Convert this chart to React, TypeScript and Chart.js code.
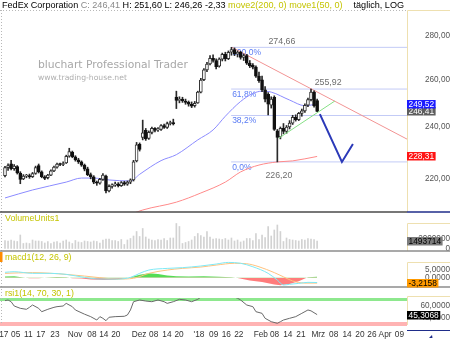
import React, { useEffect, useRef } from "react";
import { Chart, registerables } from "chart.js";

Chart.register(...registerables);

// ---------------- DATA ----------------
// daily candles, Oct 2 2017 .. Feb 28 2018 (index = trading day)
const candleOpen = [
  221.0, 224.0, 225.5, 223.6, 224.4, 222.0, 219.8, 220.8, 221.0, 220.6,
  221.8, 224.8, 222.4, 220.6, 220.2, 221.2, 222.8, 224.2, 225.4, 225.2,
  225.8, 228.4, 230.0, 228.2, 227.0, 226.2, 225.0, 223.6, 221.4, 220.6,
  218.4, 218.2, 219.6, 220.8, 215.4, 217.0, 217.6, 217.9, 217.3, 218.4,
  217.8, 218.6, 219.4, 226.6, 233.0, 235.8, 238.6, 235.4, 237.8, 239.4,
  238.8, 239.0, 240.6, 239.8, 241.4, 241.8, 252.5, 251.0, 251.6, 250.8,
  250.2, 249.4, 248.8, 250.0, 254.6, 260.0, 264.4, 267.0, 269.6, 268.6,
  266.0, 269.2, 271.4, 269.4, 272.4, 273.6, 271.6, 272.4, 270.0, 270.8,
  267.4, 266.4, 265.6, 261.6, 260.0, 255.6, 253.6, 249.0, 252.4, 238.4,
  236.0, 239.4, 238.2, 240.0, 241.6, 244.0, 243.0, 245.6, 246.6, 249.0,
  251.4, 254.6, 251.0,
];
const candleHigh = [
  224.5, 225.5, 226.8, 225.2, 224.8, 222.5, 221.4, 221.5, 221.6, 222.2,
  224.6, 225.4, 222.8, 221.0, 221.5, 223.2, 224.6, 225.8, 225.8, 226.2,
  228.8, 231.5, 230.4, 228.6, 227.6, 226.6, 225.4, 224.2, 222.0, 221.0,
  219.0, 220.0, 221.8, 221.2, 217.6, 218.0, 218.6, 218.4, 218.8, 218.9,
  219.0, 219.8, 226.8, 233.8, 233.6, 242.8, 239.4, 238.4, 240.0, 239.8,
  239.8, 241.0, 241.2, 242.0, 242.4, 243.2, 255.0, 252.6, 252.4, 251.6,
  250.8, 250.4, 250.6, 255.0, 260.6, 265.0, 267.8, 270.8, 271.2, 269.4,
  269.8, 272.0, 272.4, 273.0, 274.66, 274.4, 273.0, 272.8, 271.6, 271.4,
  268.6, 267.2, 266.2, 263.4, 261.6, 257.0, 254.4, 252.6, 253.0, 239.0,
  240.0, 241.4, 240.6, 242.6, 244.8, 245.0, 246.0, 247.4, 249.6, 252.0,
  255.92, 255.2, 251.6,
];
const candleLow = [
  220.5, 223.0, 223.2, 223.0, 221.6, 218.0, 219.5, 220.2, 220.0, 220.3,
  221.5, 222.0, 220.2, 219.5, 219.8, 221.0, 222.5, 223.8, 224.8, 224.8,
  225.6, 228.0, 227.8, 226.5, 225.6, 224.5, 222.8, 221.0, 219.8, 218.0,
  217.4, 217.8, 219.2, 214.6, 215.0, 216.4, 217.0, 216.8, 217.0, 217.4,
  217.4, 218.0, 219.0, 226.2, 230.4, 234.8, 234.6, 235.0, 237.2, 238.0,
  238.2, 238.6, 239.4, 239.4, 240.8, 240.8, 247.6, 250.0, 250.2, 249.4,
  248.6, 248.0, 248.2, 249.8, 254.2, 259.6, 263.6, 266.6, 267.8, 264.8,
  265.6, 268.4, 268.4, 269.0, 271.0, 270.8, 270.2, 269.2, 268.6, 266.8,
  265.4, 264.8, 261.0, 258.8, 254.8, 250.4, 245.0, 247.8, 238.6, 226.2,
  235.2, 237.2, 237.4, 239.2, 241.0, 242.4, 242.6, 244.4, 246.0, 248.4,
  250.8, 248.2, 246.26,
];
const candleClose = [
  224.0, 224.8, 223.6, 224.6, 222.0, 219.6, 220.8, 220.9, 220.6, 221.8,
  224.0, 222.4, 220.6, 220.0, 221.2, 222.8, 224.2, 225.4, 225.2, 225.6,
  228.4, 230.2, 228.2, 227.0, 226.2, 225.0, 223.4, 221.4, 220.6, 218.6,
  218.2, 219.6, 221.2, 215.4, 217.0, 217.6, 217.9, 217.3, 218.4, 217.8,
  218.6, 219.4, 226.2, 232.8, 231.0, 237.6, 235.2, 237.8, 239.4, 238.6,
  239.2, 240.6, 239.8, 241.4, 241.6, 241.2, 251.0, 251.6, 250.8, 250.2,
  249.4, 248.6, 249.8, 254.6, 259.8, 264.4, 267.0, 269.6, 268.6, 265.8,
  269.2, 271.4, 269.4, 272.4, 273.6, 271.6, 272.4, 270.0, 270.8, 267.4,
  266.2, 265.6, 261.6, 259.6, 255.6, 251.6, 249.4, 251.6, 239.0, 235.8,
  239.4, 238.2, 240.0, 241.6, 244.0, 243.0, 245.6, 246.6, 249.0, 251.4,
  254.6, 248.74, 246.41,
];
// volume in millions of shares
const volumeMillions = [
  1.6, 1.5, 1.7, 1.5, 1.4, 2.7, 1.0, 1.1, 1.0, 1.7,
  1.5, 1.5, 1.4, 1.1, 1.4, 1.0, 1.3, 1.4, 1.1, 1.5,
  1.7, 1.3, 1.0, 1.6, 1.3, 1.2, 1.5, 1.4, 1.3, 1.5,
  1.4, 1.1, 1.7, 1.9, 1.9, 1.6, 1.6, 1.4, 1.8, 0.8,
  1.7, 2.0, 2.5, 3.4, 2.4, 4.0, 2.3, 1.9, 1.7, 1.6,
  1.8, 1.7, 2.0, 1.6, 2.1, 2.1, 5.0, 4.4, 1.0, 1.2,
  1.4, 1.7, 2.4, 3.0, 2.6, 2.3, 3.4, 2.3, 1.9, 2.0,
  1.9, 1.8, 2.0, 1.7, 2.1, 1.5, 1.7, 1.3, 1.5, 2.0,
  2.0, 1.6, 3.0, 1.8, 2.7, 2.2, 4.4, 2.5, 3.7, 4.7,
  3.4, 1.4, 2.1, 1.8, 1.7, 1.6, 1.5, 1.8, 1.7, 2.0,
  1.9, 1.8, 1.493714,
];

// moving averages (read at sample days)
const ma50Idx = [0, 9, 20, 25, 29, 34, 41, 44, 51, 56, 63, 68, 72, 77, 81, 84, 87, 93, 98, 102];
const ma50Val = [212.8, 215.7, 218.6, 220.1, 220.1, 219.4, 219.0, 221.5, 226.7, 229.0, 234.8, 238.8, 244.4, 250.6, 254.0, 255.0, 254.6, 251.2, 248.8, 249.52];
const ma200Idx = [0, 20, 35, 45, 56, 64, 72, 77, 83, 89, 94, 102];
const ma200Val = [196.0, 200.0, 204.5, 208.5, 211.3, 214.6, 218.6, 222.4, 225.0, 226.2, 226.6, 228.31];

// MACD
const macdIdx = [0, 3, 9, 15, 20, 26, 31, 37, 41, 44, 47, 53, 58, 64, 69, 73, 77, 81, 86, 89, 91, 93, 96, 99, 102];
const macdVal = [3.6, 4.0, 2.9, 2.9, 2.2, 0.2, -0.9, -0.9, 0.2, 2.9, 5.1, 6.2, 6.7, 7.8, 9.1, 10.2, 9.6, 7.3, 2.9, -1.6, -4.9, -4.4, -3.8, -3.1, -3.2158];
const signalIdx = [0, 9, 20, 26, 31, 37, 42, 47, 53, 58, 64, 69, 75, 79, 83, 88, 91, 94, 98, 102];
const signalVal = [2.9, 3.4, 2.2, 1.1, 0, -0.9, -0.4, 2.9, 5.1, 6.2, 7.1, 8.4, 9.6, 9.3, 7.3, 3.4, 0.6, -2.2, -3.6, -3.6];
const histIdx = [0, 3, 6, 8, 11, 14, 17, 20, 22, 25, 28, 32, 36, 39, 41, 44, 47, 50, 53, 56, 60, 65, 70, 74, 76, 80, 84, 88, 90, 93, 96, 98, 99, 102];
const histVal = [0.8, 0.9, 0.2, -0.4, -0.3, 0.1, 0.4, 0.3, -0.3, -0.6, -1.2, -1.5, -1.3, -0.6, 0.3, 2.0, 2.9, 2.4, 1.5, 1.0, 0.8, 0.9, 0.7, 0.3, -0.2, -1.8, -2.8, -4.5, -5.0, -4.2, -2.4, -0.6, 0.3, 0.7];

// RSI
const rsiIdx = [0, 1, 2, 3, 5, 7, 8, 9, 11, 12, 14, 16, 17, 19, 20, 22, 23, 26, 28, 30, 31, 32, 33, 34, 36, 39, 40, 41, 42, 44, 46, 48, 50, 52, 53, 55, 57, 59, 61, 63, 64, 66, 70, 74, 76, 77, 79, 81, 82, 84, 85, 87, 89, 90, 91, 93, 95, 97, 99, 100, 102];
const rsiVal = [68.1, 69.2, 66.4, 59.4, 55.6, 54.0, 57.2, 61.0, 55.6, 50.1, 54.0, 57.2, 58.3, 59.4, 63.7, 58.3, 52.9, 46.0, 42.0, 36.5, 42.0, 39.3, 35.4, 41.0, 42.0, 42.6, 44.7, 52.9, 66.4, 69.2, 67.5, 66.4, 69.2, 66.4, 63.7, 66.4, 70.3, 69.2, 66.4, 70.3, 74, 78, 80, 76, 72, 69.2, 61.0, 58.3, 50.1, 47.4, 39.3, 33.8, 31.1, 33.8, 36.5, 39.3, 42.0, 47.4, 52.9, 51.5, 45.31];

// drawings: fibonacci retracement, trend lines, projection
const fibLevels = [274.66, 255.92, 244.71, 226.2];
const fibLabels = ["100,0%", "61,8%", "38,2%", "0,0%"];
const fibSpanIdx = [73.9, 131.4];
const priceNoteText = ["274,66", "255,92", "226,20"];
const priceNoteValue = [274.66, 255.92, 226.2];
const trendRedIdx = [74.2, 131.4];
const trendRedVal = [274.66, 235.1];
const trendGreenIdx = [89.5, 107.8];
const trendGreenVal = [235.5, 250.8];
const projectionIdx = [102.9, 110.1, 113.7];
const projectionVal = [245.3, 226.2, 233.2];

// axis ticks
const xTickPos = [-0.65, 3.5, 7.6, 11.7, 16.3, 22.9, 28.4, 32.3, 36.2, 43.8, 48.6, 52.9, 56.9, 63.4, 68.2, 72.3, 76.4, 83.6, 88.1, 92.4, 96.7, 102.4, 107.4, 111.8, 116, 119.9, 124.2, 128.9];
const xTickLabels = ["'17", "05", "11", "17", "23", "Nov", "08", "14", "20", "Dez", "08", "14", "20", "'18", "09", "16", "22", "Feb", "08", "14", "21", "Mrz", "08", "14", "20", "26", "Apr", "09"];
const mainTicks = [220, 240, 260, 280];
const mainTickLabels = ["220,00", "240,00", "260,00", "280,00"];
const volTicks = [0, 2];
const volTickLabels = ["0", "2000000"];
const macdTicks = [0, 5];
const macdTickLabels = ["0,0000", "5,0000"];
const rsiTicks = [40, 60];
const rsiTickLabels = ["40,0000", "60,0000"];

// texts
const titleParts = ["FedEx Corporation ", "C: 246,41 ", "H: 251,60 L: 246,26 -2,33 ", "move2(200, 0) move1(50, 0)"];
const titleRight = "täglich, LOG";
const watermarkTitle = "bluchart Professional Trader";
const watermarkUrl = "www.trading-house.net";
const panelTitles = ["VolumeUnits1", "macd1(12, 26, 9)", "rsi1(14, 70, 30, 1)"];
const lastValues = { ma50: 249.52, close: 246.41, ma200: 228.31, volume: 1.493714, macd: -3.2158, rsi: 45.3068 };
const lastValueText = { ma50: "249,52", close: "246,41", ma200: "228,31", volume: "1493714", macd: "-3,2158", rsi: "45,3068" };

// ---------------- LAYOUT / STYLE ----------------
const SANS = "'Liberation Sans', Arial, sans-serif";
const DEJAVU = "'DejaVu Sans', sans-serif";
const PLOT_RIGHT = 407;
const AXIS_W = 43;
const AXIS_FONT = 8.2;
const YELLOW = "#c4c400";

function fitFont(ctx: CanvasRenderingContext2D, text: string, width: number, family: string) {
  ctx.font = `20px ${family}`;
  const w = ctx.measureText(text).width;
  return `${((20 * width) / w).toFixed(2)}px ${family}`;
}

function hline(ctx: CanvasRenderingContext2D, x1: number, y1: number, x2: number, y2: number) {
  ctx.beginPath();
  ctx.moveTo(x1, y1);
  ctx.lineTo(x2, y2);
  ctx.stroke();
}

const overlayPlugin = {
  id: "overlay",
  beforeDatasetsDraw(chart: any) {
    const { ctx, scales } = chart;
    const xs = scales.x, ym = scales.yMain, yr = scales.yRsi;
    ctx.save();
    ctx.textBaseline = "middle";
    ctx.textAlign = "left";
    // watermark
    ctx.fillStyle = "#a8a8a8";
    ctx.font = fitFont(ctx, watermarkTitle, 150, DEJAVU);
    ctx.fillText(watermarkTitle, 38, 65);
    ctx.fillStyle = "#afafaf";
    ctx.font = fitFont(ctx, watermarkUrl, 89, DEJAVU);
    ctx.fillText(watermarkUrl, 38, 78);
    // fib labels
    ctx.font = `8.5px ${SANS}`;
    ctx.fillStyle = "#5a7cf4";
    const fx = xs.getPixelForValue(fibSpanIdx[0]) + 1;
    fibLevels.forEach((v, k) => ctx.fillText(fibLabels[k], fx, ym.getPixelForValue(v) + 5.5));
    // price notes
    const noteIdx = [90.5, 105.6, 89.5];
    const noteDy = [-6, -6, 14];
    ctx.font = `8.8px ${SANS}`;
    ctx.fillStyle = "#6e6e6e";
    ctx.textAlign = "center";
    priceNoteText.forEach((t, k) =>
      ctx.fillText(t, xs.getPixelForValue(noteIdx[k]), ym.getPixelForValue(priceNoteValue[k]) + noteDy[k])
    );
    // RSI bands
    ctx.lineWidth = 3;
    ctx.strokeStyle = "#8ee88e";
    const y70 = yr.getPixelForValue(70);
    hline(ctx, 0, y70, PLOT_RIGHT, y70);
    ctx.lineWidth = 4;
    ctx.strokeStyle = "#ffb3b3";
    const y30 = yr.getPixelForValue(30);
    hline(ctx, 0, y30, PLOT_RIGHT, y30);
    ctx.restore();
  },
  afterDraw(chart: any) {
    const { ctx, scales } = chart;
    ctx.save();
    // left dotted axis & top dotted border
    ctx.strokeStyle = "#b8b8b8";
    ctx.lineWidth = 1;
    ctx.setLineDash([1, 2]);
    hline(ctx, 1.5, 10, 1.5, 325);
    hline(ctx, 0, 10.5, PLOT_RIGHT, 10.5);
    ctx.setLineDash([]);
    // right column boxes
    ctx.strokeStyle = "#eee0b0";
    const tops = [10.5, 223.5, 262.5, 296.5];
    const bottoms = [212, 251, 287, 325];
    tops.forEach((t, k) => {
      hline(ctx, PLOT_RIGHT + 0.5, t, PLOT_RIGHT + 0.5, bottoms[k]);
      hline(ctx, PLOT_RIGHT + 0.5, t, 450, t);
    });
    // separators
    ctx.lineWidth = 1.5;
    ctx.strokeStyle = "#4a4a4a";
    hline(ctx, 0, 212, PLOT_RIGHT, 212);
    ctx.strokeStyle = "#1f2d8a";
    hline(ctx, PLOT_RIGHT, 212, 450, 212);
    ctx.strokeStyle = "#8c8c8c";
    hline(ctx, 0, 251, 450, 251);
    hline(ctx, 0, 287, 450, 287);
    ctx.lineWidth = 1;
    ctx.strokeStyle = "#1f2d8a";
    hline(ctx, PLOT_RIGHT, 330.5, 450, 330.5);
    // small arrow in the corner cell
    ctx.fillStyle = "#1f2d8a";
    ctx.beginPath();
    ctx.moveTo(429, 338);
    ctx.lineTo(432, 335);
    ctx.lineTo(432.5, 338);
    ctx.closePath();
    ctx.fill();

    // title
    ctx.textBaseline = "middle";
    ctx.textAlign = "left";
    const titleFont = fitFont(ctx, titleParts.join(""), 341, SANS);
    ctx.font = titleFont;
    const titleColors = ["#000000", "#8a8a8a", "#000000", YELLOW];
    let tx = 2;
    titleParts.forEach((p, k) => {
      ctx.fillStyle = titleColors[k];
      ctx.fillText(p, tx, 5.5);
      tx += ctx.measureText(p).width;
    });
    ctx.fillStyle = "#000";
    ctx.textAlign = "right";
    ctx.fillText(titleRight, 404, 5.5);

    // panel titles
    ctx.textAlign = "left";
    ctx.font = `8.8px ${SANS}`;
    ctx.fillStyle = YELLOW;
    ctx.fillText(panelTitles[0], 5, scales.yVol.top + 6.5);
    ctx.fillText(panelTitles[1], 5, scales.yMacd.top + 7);
    ctx.fillText(panelTitles[2], 5, scales.yRsiHead.top + 7);
    ctx.fillStyle = "#ff8c00";
    ctx.fillRect(0, scales.yMacd.top + 1, 2.5, 10);

    // last value boxes
    const box = (text: string, y: number, bg: string, fg: string) => {
      ctx.font = `8.4px ${SANS}`;
      const w = ctx.measureText(text).width + 3;
      const yc = Math.round(y);
      ctx.fillStyle = bg;
      ctx.fillRect(PLOT_RIGHT, yc - 4, w, 8.5);
      ctx.fillStyle = fg;
      ctx.textAlign = "left";
      ctx.fillText(text, PLOT_RIGHT + 1.5, yc + 0.5);
    };
    const ym = scales.yMain;
    box(lastValueText.close, ym.getPixelForValue(lastValues.close), "#5e5e5e", "#ffffff");
    box(lastValueText.ma50, ym.getPixelForValue(lastValues.ma50), "#1c1cff", "#ffffff");
    box(lastValueText.ma200, ym.getPixelForValue(lastValues.ma200), "#ff1414", "#ffffff");
    box(lastValueText.volume, scales.yVol.getPixelForValue(lastValues.volume), "#7c7c7c", "#000000");
    box(lastValueText.macd, scales.yMacd.getPixelForValue(lastValues.macd), "#ff9a00", "#000000");
    box(lastValueText.rsi, scales.yRsi.getPixelForValue(lastValues.rsi), "#000000", "#ffffff");
    ctx.restore();
  },
};

export default function App() {
  const canvasRef = useRef<HTMLCanvasElement | null>(null);

  useEffect(() => {
    document.body.style.margin = "0";
    const canvas = canvasRef.current;
    if (!canvas) return;

    const n = candleClose.length;
    const days = Array.from({ length: n }, (_, i) => i);
    const up = days.map((i) => candleClose[i] >= candleOpen[i]);
    const pts = (xs: number[], ys: number[]) => xs.map((x, k) => ({ x, y: ys[k] }));

    const mctx = document.createElement("canvas").getContext("2d")!;
    const textW = (s: string) => {
      mctx.font = `${AXIS_FONT}px ${SANS}`;
      return mctx.measureText(s).width;
    };

    const yAxis = (weight: number, ticks: number[], labels: string[], rightEdge: number, extra: any) => {
      const widest = labels.length ? Math.max(...labels.map(textW)) : 0;
      return {
        position: "right",
        stack: "panels",
        stackWeight: weight,
        bounds: "data",
        offset: false,
        grid: { display: false, drawTicks: false },
        border: { display: false },
        ticks: {
          font: { family: SANS, size: AXIS_FONT },
          color: "#555555",
          padding: Math.max(0, rightEdge - PLOT_RIGHT - widest),
          crossAlign: "far",
          autoSkip: false,
          callback: (_v: any, i: number) => labels[i] ?? "",
        },
        afterBuildTicks: (s: any) => {
          s.ticks = ticks.map((v) => ({ value: v }));
        },
        afterFit: (s: any) => {
          s.width = AXIS_W;
          s.paddingTop = 0;
          s.paddingBottom = 0;
        },
        ...extra,
      };
    };

    const lineDs = (data: any[], yAxisID: string, color: string, width: number, order: number, extra: any = {}) => ({
      type: "line",
      data,
      yAxisID,
      borderColor: color,
      borderWidth: width,
      pointRadius: 0,
      fill: false,
      order,
      ...extra,
    });

    const chart = new Chart(canvas, {
      type: "bar",
      data: {
        datasets: [
          ...fibLevels.map((v) =>
            lineDs(pts(fibSpanIdx, [v, v]), "yMain", "#c3cbf6", 1, 20)
          ),
          lineDs(pts(ma200Idx, ma200Val), "yMain", "#ff8a8a", 1, 15, { cubicInterpolationMode: "monotone" }),
          lineDs(pts(ma50Idx, ma50Val), "yMain", "#8b8bff", 1, 14, { cubicInterpolationMode: "monotone" }),
          lineDs(pts(trendRedIdx, trendRedVal), "yMain", "#f29494", 1, 13),
          {
            type: "bar",
            yAxisID: "yMain",
            data: days.map((i) => ({ x: i, y: [candleLow[i], candleHigh[i]] })),
            backgroundColor: "#2a2a2a",
            borderWidth: 0,
            barThickness: 1,
            maxBarThickness: 1,
            grouped: false,
            order: 6,
          },
          {
            type: "bar",
            yAxisID: "yMain",
            data: days.map((i) => ({ x: i, y: [candleOpen[i], candleClose[i]] })),
            backgroundColor: up.map((u) => (u ? "#ffffff" : "#111111")),
            borderColor: up.map((u) => (u ? "#333333" : "#111111")),
            borderWidth: 1,
            borderSkipped: false,
            barThickness: 3,
            maxBarThickness: 3,
            minBarLength: 1,
            grouped: false,
            order: 5,
          },
          lineDs(pts(trendGreenIdx, trendGreenVal), "yMain", "#86e086", 1, 4),
          lineDs(pts(projectionIdx, projectionVal), "yMain", "#2b39b8", 2, 3),
          {
            type: "bar",
            yAxisID: "yVol",
            data: days.map((i) => ({ x: i, y: volumeMillions[i] })),
            backgroundColor: "#d2d2d2",
            borderWidth: 0,
            barThickness: 1,
            maxBarThickness: 1,
            grouped: false,
            order: 10,
          },
          lineDs(pts(histIdx, histVal), "yMacd", "rgba(0,0,0,0)", 0, 12, {
            fill: { target: "origin", above: "#55dd55", below: "#ff7c7c" },
          }),
          lineDs(pts(signalIdx, signalVal), "yMacd", "#ffc27e", 1, 9, { cubicInterpolationMode: "monotone" }),
          lineDs(pts(macdIdx, macdVal), "yMacd", "#7fe9f5", 1, 8, { cubicInterpolationMode: "monotone" }),
          lineDs(pts(rsiIdx, rsiVal), "yRsi", "#6a6a6a", 1, 7),
        ],
      },
      options: {
        responsive: false,
        animation: false,
        devicePixelRatio: 1,
        events: [],
        layout: { padding: { top: 10, left: 2, right: 0, bottom: 0 } },
        plugins: { legend: { display: false }, tooltip: { enabled: false }, title: { display: false } },
        scales: {
          x: {
            type: "linear",
            position: "bottom",
            min: -0.98,
            max: 131.37,
            bounds: "data",
            offset: false,
            grid: { display: false, drawTicks: false, offset: false },
            border: { display: false },
            ticks: {
              font: { family: SANS, size: 8.3 },
              color: "#333333",
              padding: 5,
              autoSkip: false,
              maxRotation: 0,
              minRotation: 0,
              callback: (_v: any, i: number) => xTickLabels[i] ?? "",
            },
            afterBuildTicks: (s: any) => {
              s.ticks = xTickPos.map((v) => ({ value: v }));
            },
            afterFit: (s: any) => {
              s.height = 15;
              s.paddingLeft = 0;
              s.paddingRight = 0;
            },
          },
          yMain: yAxis(202, mainTicks, mainTickLabels, 450, { type: "logarithmic", min: 207.8, max: 292.6, weight: 0 }),
          yVol: yAxis(39, volTicks, volTickLabels, 450, { type: "linear", min: -0.5, max: 7.3, weight: 1 }),
          yMacd: yAxis(36, macdTicks, macdTickLabels, 448.5, { type: "linear", min: -6.2, max: 17.8, weight: 2 }),
          yRsiHead: yAxis(11, [], [], 450, { type: "linear", min: 0, max: 1, weight: 3, display: false }),
          yRsi: yAxis(27, rsiTicks, rsiTickLabels, 451, { type: "linear", min: 28.37, max: 72.45, weight: 4 }),
        },
      } as any,
      plugins: [overlayPlugin],
    } as any);

    return () => chart.destroy();
  }, []);

  return (
    <div style={{ width: 450, height: 340, background: "#ffffff" }}>
      <canvas ref={canvasRef} width={450} height={340} style={{ display: "block", width: 450, height: 340 }} />
    </div>
  );
}
